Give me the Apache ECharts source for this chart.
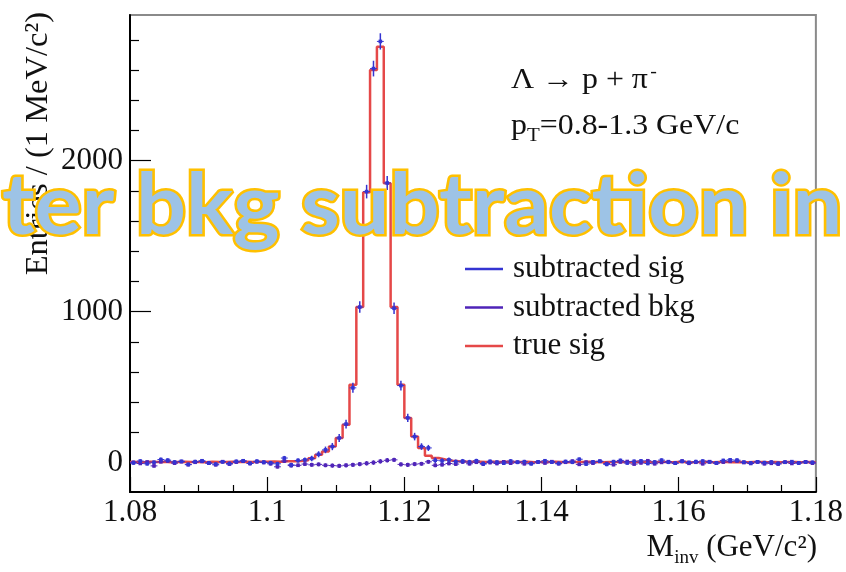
<!DOCTYPE html>
<html><head><meta charset="utf-8">
<script src="https://cdn.jsdelivr.net/npm/echarts@6/dist/echarts.min.js"></script>
<style>html,body{margin:0;padding:0;background:#fff}#c{width:846px;height:572px}</style>
</head><body><div id="c"></div>
<script>
// ---- data ----
const xMin = 1.08, xMax = 1.18, binWidth = 0.001;   // 100 bins of 1 MeV
const xTickInterval = 0.02;
const yMajorTicks = [0, 1000, 2000];
const yMinorTicks = [200, 400, 600, 800, 1200, 1400, 1600, 1800, 2200, 2400, 2600, 2800];
const seriesNames = ['subtracted sig', 'subtracted bkg', 'true sig'];

const trueSig = [
  4, 2, 5, 3, 6, 2, 4, 5, 3, 4,
  2, 5, 4, 3, 6, 4, 5, 3, 6, 5,
  7, 6, 8, 9, 11, 15, 29, 51, 73, 106,
  162, 250, 515, 1030, 1790, 2600, 2755, 1850, 1030, 515,
  296, 172, 97, 45, 30, 20, 12, 9, 7, 6,
  5, 4, 6, 3, 5, 4, 3, 5, 2, 4,
  3, 5, 4, 2, 4, 3, 5, 3, 2, 4,
  3, 4, 2, 5, 3, 2, 4, 3, 2, 3,
  4, 2, 3, 5, 2, 3, 4, 2, 3, 2,
  3, 4, 2, 3, 2, 4, 3, 2, 3, 2
];
const subSig = [
  -3, 10, -8, 2, 20, 16, 4, 8, -12, 6,
  12, -4, -10, 5, -6, 8, 12, -5, 9, 3,
  -2, -8, 30, -15, 14, 18, 27, 55, 84, 106,
  163, 255, 495, 1030, 1795, 2610, 2790, 1852, 1022, 510,
  296, 172, 106, 97, 15, 12, 18, 6, 10, 4,
  12, -6, 8, 3, -4, 10, 2, 6, -8, 4,
  12, 3, -5, 7, 2, 22, -10, 5, 9, -12,
  6, 14, -3, 8, 11, -6, 4, 16, 2, -4,
  8, 1, 6, 10, 4, -2, 14, 18, 16, 3,
  -2, 5, 0, 4, -5, 2, 6, -3, 3, 2
];
const subSigErr = [
  11, 12, 12, 11, 13, 12, 12, 11, 12, 13,
  12, 12, 11, 12, 13, 12, 12, 12, 13, 12,
  13, 13, 14, 14, 15, 16, 18, 20, 22, 24,
  26, 29, 33, 38, 45, 52, 54, 46, 38, 32,
  28, 25, 22, 20, 18, 17, 16, 15, 14, 14,
  13, 13, 13, 12, 12, 13, 12, 12, 12, 12,
  12, 12, 12, 12, 12, 12, 12, 12, 12, 12,
  12, 12, 11, 12, 12, 11, 12, 12, 12, 11,
  12, 11, 12, 12, 11, 12, 11, 12, 12, 11,
  11, 12, 11, 11, 12, 11, 11, 12, 11, 11
];
const subBkg = [
  2, -6, 4, -22, 5, 10, -4, 6, -14, 2,
  8, -3, -15, 6, -10, 3, 9, -6, 5, 0,
  -8, -28, 10, -20, -18, -10, -15, -12, -18, -20,
  -22, -18, -15, -10, -5, 0, 8, 15, 18, -12,
  -15, -10, -8, 5, -18, -14, -6, -10, 4, -8,
  2, -10, 0, -6, 5, -4, 2, -8, -5, 4,
  -3, 6, -8, 2, 10, -12, 3, -4, 8, -6,
  -14, 4, 7, -10, -2, 12, -8, 1, 6, -4,
  10, -5, 2, -8, 6, -4, 3, 8, 10, 0,
  -6, 4, -8, -5, -10, 3, -6, -2, 5, -4
];
const subBkgErr = [
  10, 10, 10, 10, 10, 10, 10, 10, 10, 10,
  10, 10, 10, 10, 10, 11, 11, 11, 11, 11,
  11, 11, 12, 12, 12, 12, 13, 13, 13, 14,
  14, 14, 14, 14, 15, 15, 15, 15, 14, 14,
  14, 14, 13, 13, 13, 12, 12, 12, 12, 11,
  11, 11, 11, 11, 11, 11, 10, 10, 10, 10,
  10, 10, 10, 10, 10, 10, 10, 10, 10, 10,
  10, 10, 10, 10, 10, 10, 10, 10, 10, 10,
  10, 10, 10, 10, 10, 10, 10, 10, 10, 10,
  10, 10, 10, 10, 10, 10, 10, 10, 10, 10
];

// ---- build library tables ----
const binCenter = i => xMin + (i + 0.5) * binWidth;
const stepData = trueSig.map((v, i) => [xMin + i * binWidth, v]);
stepData.push([xMax, trueSig[trueSig.length - 1]]);
const sigPts = subSig.map((v, i) => [binCenter(i), v, subSigErr[i]]);
const bkgPts = subBkg.map((v, i) => [binCenter(i), v, subBkgErr[i]]);

const SERIF = '"Liberation Serif","Times New Roman",serif';
const colSig = '#3434d2', colBkg = '#4f24b8', colTrue = '#e54848';

function pointRenderer(color) {
  return function (params, api) {
    const x = api.value(0), y = api.value(1), e = api.value(2);
    const c = api.coord([x, y]);
    const t = api.coord([x, y + e]);
    const b = api.coord([x, y - e]);
    const l = api.coord([x - binWidth / 2, y]);
    const r = api.coord([x + binWidth / 2, y]);
    return {
      type: 'group',
      children: [
        { type: 'line', shape: { x1: l[0], y1: c[1], x2: r[0], y2: c[1] }, style: { stroke: color, lineWidth: 1 } },
        { type: 'line', shape: { x1: c[0], y1: t[1], x2: c[0], y2: b[1] }, style: { stroke: color, lineWidth: 1.5 } },
        { type: 'rect', shape: { x: c[0] - 1.8, y: c[1] - 1.8, width: 3.6, height: 3.6 }, style: { fill: color } }
      ]
    };
  };
}

const chart = echarts.init(document.getElementById('c'), null, { renderer: 'canvas' });
chart.setOption({
  backgroundColor: '#fff',
  animation: false,
  grid: { left: 130, right: 30, top: 15, bottom: 80, show: true, borderColor: '#8a8a8a', borderWidth: 2, backgroundColor: 'transparent' },
  legend: {
    orient: 'vertical', left: 465, top: 253.5, padding: 0, itemGap: 7.5,
    itemWidth: 38, itemHeight: 2.5,
    data: seriesNames.map(n => ({ name: n, icon: 'rect' })),
    textStyle: { fontFamily: SERIF, fontSize: 31, color: '#111', lineHeight: 30, padding: [0, 0, 0, 5] }
  },
  xAxis: {
    type: 'value', min: xMin, max: xMax, interval: xTickInterval,
    axisLine: { onZero: false, lineStyle: { color: '#000', width: 2 } },
    axisTick: { inside: true, length: 15, lineStyle: { color: '#000', width: 1.2 } },
    minorTick: { show: true, splitNumber: 4, length: 7, lineStyle: { color: '#000', width: 1.2 } },
    splitLine: { show: false },
    axisLabel: { fontFamily: SERIF, fontSize: 31, color: '#111', margin: 5, formatter: v => String(+v.toFixed(2)) }
  },
  yAxis: [
    {
      type: 'value', min: -195, max: 2965,
      axisLine: { show: true, onZero: false, lineStyle: { color: '#000', width: 2 } },
      axisTick: { show: true, inside: true, length: 21, customValues: yMajorTicks, lineStyle: { color: '#000', width: 1.2 } },
      axisLabel: { fontFamily: SERIF, fontSize: 31, color: '#111', margin: 7, customValues: yMajorTicks, formatter: v => String(Math.round(v)) },
      splitLine: { show: false }
    },
    {
      type: 'value', min: -195, max: 2965, position: 'left', offset: 0,
      axisLine: { show: false },
      axisTick: { show: true, inside: true, length: 9, customValues: yMinorTicks, lineStyle: { color: '#000', width: 1.2 } },
      axisLabel: { show: false },
      splitLine: { show: false }
    }
  ],
  series: [
    {
      name: seriesNames[2], type: 'line', data: stepData, step: 'end', symbol: 'none', clip: true, z: 2,
      lineStyle: { color: colTrue, width: 2.5 }, itemStyle: { color: colTrue }
    },
    {
      name: seriesNames[1], type: 'custom', data: bkgPts, renderItem: pointRenderer(colBkg), z: 3,
      itemStyle: { color: colBkg }, encode: { x: 0, y: 1 }
    },
    {
      name: seriesNames[0], type: 'custom', data: sigPts, renderItem: pointRenderer(colSig), z: 4,
      itemStyle: { color: colSig }, encode: { x: 0, y: 1 }
    }
  ],
  graphic: [
    {
      type: 'text', x: 38, y: 12, rotation: Math.PI / 2,
      style: { text: 'Entries / (1 MeV/c²)', font: '32.5px ' + SERIF, fill: '#111', align: 'right', verticalAlign: 'middle' }
    },
    {
      type: 'text', x: 817, y: 548,
      style: {
        text: '{a|M}{s|inv}{a| (GeV/c²)}', align: 'right', verticalAlign: 'middle', fill: '#111',
        rich: {
          a: { fontFamily: SERIF, fontSize: 31, lineHeight: 40, verticalAlign: 'middle', fill: '#111' },
          s: { fontFamily: SERIF, fontSize: 19, lineHeight: 40, verticalAlign: 'bottom', fill: '#111' }
        }
      }
    },
    {
      type: 'text', x: 511, y: 80, scaleX: 1.1,
      style: {
        text: '{a|Λ → p + π}{p|-}', align: 'left', verticalAlign: 'middle', fill: '#111',
        rich: {
          a: { fontFamily: SERIF, fontSize: 29, lineHeight: 34, verticalAlign: 'middle', fill: '#111' },
          p: { fontFamily: SERIF, fontSize: 18, lineHeight: 34, verticalAlign: 'top', fill: '#111', padding: [0, 0, 0, 2] }
        }
      }
    },
    {
      type: 'text', x: 511, y: 126, scaleX: 1.1,
      style: {
        text: '{a|p}{s|T}{a|=0.8-1.3 GeV/c}', align: 'left', verticalAlign: 'middle', fill: '#111',
        rich: {
          a: { fontFamily: SERIF, fontSize: 29, lineHeight: 40, verticalAlign: 'middle', fill: '#111' },
          s: { fontFamily: SERIF, fontSize: 19, lineHeight: 40, verticalAlign: 'bottom', fill: '#111' }
        }
      }
    },
    {
      type: 'text', x: 2, y: 207, z: 100, scaleX: 1.05,
      style: {
        text: 'ter bkg subtraction in', font: 'bold 84px Lato, "Open Sans", sans-serif',
        fill: '#9dc3e6', stroke: '#ffc000', lineWidth: 5, strokeFirst: true,
        align: 'left', verticalAlign: 'middle'
      }
    }
  ]
});
</script></body></html>
